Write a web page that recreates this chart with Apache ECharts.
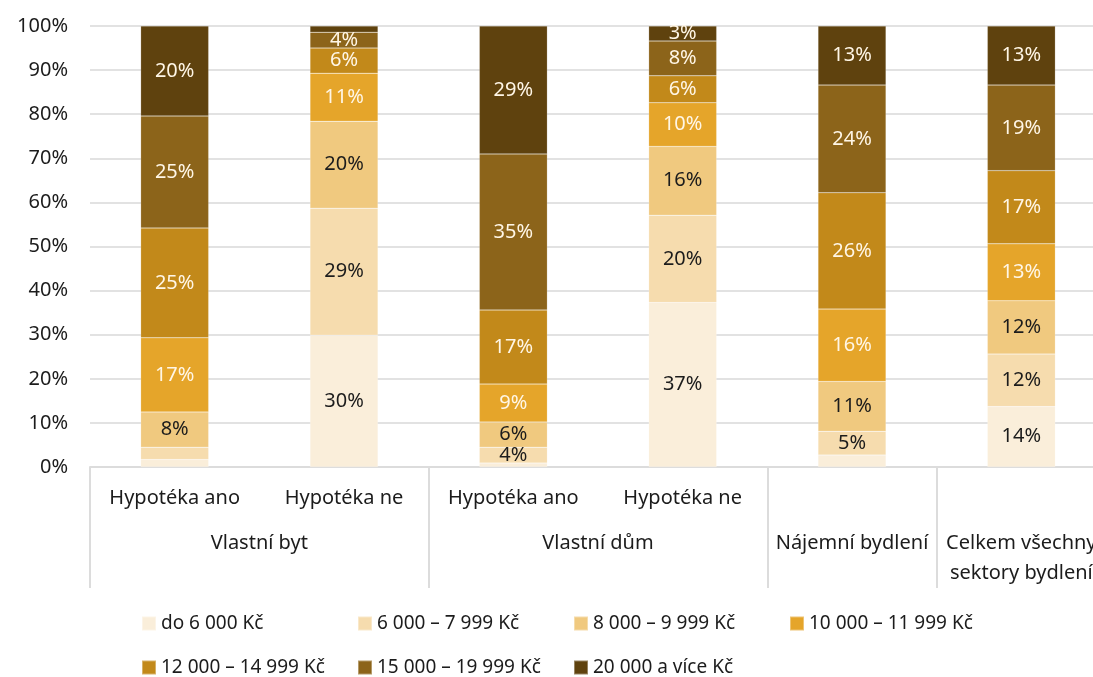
<!DOCTYPE html>
<html lang="cs">
<head>
<meta charset="utf-8">
<title>Rozložení podle výše nákladů na bydlení</title>
<script src="https://cdn.jsdelivr.net/npm/echarts@6/dist/echarts.min.js"></script>
<style>
  html, body { margin: 0; padding: 0; background: #ffffff; overflow: hidden; }
  #chart { width: 1093px; height: 677px; }
</style>
</head>
<body>
<div id="chart"></div>
<script>
// Kategorie sloupců (spodní úroveň osy X)
const categories = ['Hypotéka ano', 'Hypotéka ne', 'Hypotéka ano', 'Hypotéka ne', '', ''];
// Skupiny (horní úroveň osy X) na pomocné ose s 13 body: popisky uprostřed skupin
const groupSlots = ['', '', 'Vlastní byt', '', '', '', 'Vlastní dům', '', '', 'Nájemní bydlení', '', 'Celkem všechny\nsektory bydlení', ''];
const groupBoundaries = [0, 4, 8, 10, 12];

// Pásma nákladů
const bandNames = [
  'do 6 000 Kč',
  '6 000 – 7 999 Kč',
  '8 000 – 9 999 Kč',
  '10 000 – 11 999 Kč',
  '12 000 – 14 999 Kč',
  '15 000 – 19 999 Kč',
  '20 000 a více Kč'
];
const bandColors = ['#FAEEDA', '#F6DCAE', '#F0C97F', '#E5A52A', '#C2891A', '#8C641A', '#5F420E'];
const labelColors = ['#1c1c1c', '#1c1c1c', '#1c1c1c', '#FFF6E6', '#FFF6E6', '#FFF6E6', '#FFF6E6'];

// Podíly (%) v každém sloupci, po pásmech
const band0 = [1.7, 29.9, 0.9, 37.3, 2.7, 13.7];
const band1 = [2.8, 28.8, 3.6, 19.8, 5.4, 11.9];
const band2 = [8.0, 19.7, 5.7, 15.6, 11.3, 12.1];
const band3 = [16.8, 10.9, 8.6, 9.9, 16.4, 12.9];
const band4 = [24.9, 5.7, 16.8, 6.1, 26.4, 16.6];
const band5 = [25.4, 3.6, 35.4, 7.9, 24.4, 19.4];
const band6 = [20.4, 1.4, 29.0, 3.4, 13.4, 13.4];
const bands = [band0, band1, band2, band3, band4, band5, band6];

const yTicks = { min: 0, max: 100, interval: 10 };

const FONT = 'Noto Sans';
const chart = echarts.init(document.getElementById('chart'), null, { renderer: 'canvas' });

const series = bands.map((values, i) => ({
  name: bandNames[i],
  type: 'bar',
  stack: 'total',
  xAxisIndex: 0,
  barWidth: 68,
  data: values,
  itemStyle: { color: bandColors[i], borderColor: 'rgba(255,255,255,0.35)', borderWidth: 0.5 },
  label: {
    show: true,
    position: 'inside',
    fontFamily: FONT,
    fontSize: 20,
    color: labelColors[i],
    formatter: p => (p.value >= 3 ? Math.round(p.value) + '%' : '')
  },
  emphasis: { disabled: true }
}));

chart.setOption({
  animation: false,
  backgroundColor: '#ffffff',
  textStyle: { fontFamily: FONT },
  // Plocha grafu přesahuje pravý okraj, poslední skupina je oříznutá
  grid: { left: 90, top: 26, bottom: 210, right: -13, containLabel: false, outerBoundsMode: 'none' },
  legend: {
    data: bandNames,
    left: 141,
    top: 606,
    padding: 0,
    width: 880,
    itemWidth: 14,
    itemHeight: 14,
    itemGap: 9,
    icon: 'rect',
    textStyle: { fontFamily: FONT, fontSize: 19, color: '#1c1c1c', width: 187, lineHeight: 35 }
  },
  xAxis: [
    {
      type: 'category',
      data: categories,
      position: 'bottom',
      axisLine: { show: true, lineStyle: { color: '#dcdcdc', width: 2 } },
      axisTick: { show: false },
      axisLabel: { interval: 0, margin: 16, fontFamily: FONT, fontSize: 20, color: '#1c1c1c', lineHeight: 30 }
    },
    {
      type: 'category',
      data: groupSlots,
      position: 'bottom',
      offset: 0,
      boundaryGap: false,
      axisLine: { show: false },
      axisTick: {
        show: true,
        inside: false,
        length: 121,
        interval: idx => groupBoundaries.includes(idx),
        lineStyle: { color: '#dcdcdc', width: 2 }
      },
      axisLabel: { interval: 0, margin: 61, fontFamily: FONT, fontSize: 20, color: '#1c1c1c', lineHeight: 30 }
    }
  ],
  yAxis: {
    type: 'value',
    min: yTicks.min,
    max: yTicks.max,
    interval: yTicks.interval,
    axisLine: { show: false },
    axisTick: { show: false },
    splitLine: { lineStyle: { color: '#e2e2e2', width: 2 } },
    axisLabel: { formatter: '{value}%', margin: 22, fontFamily: FONT, fontSize: 20, color: '#1c1c1c' }
  },
  series: series
});
</script>
</body>
</html>
